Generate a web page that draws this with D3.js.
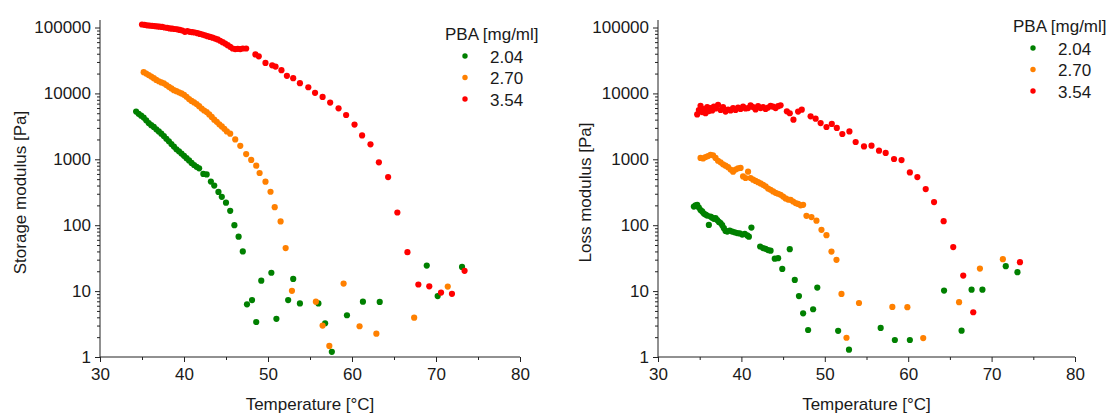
<!DOCTYPE html>
<html>
<head>
<meta charset="utf-8">
<script src="https://cdn.jsdelivr.net/npm/d3@7"></script>
<style>
  body { margin: 0; background: #fff; }
  text { font-family: "Liberation Sans", Arial, sans-serif; fill: #1a1a1a; }
</style>
</head>
<body>
<script>
// concentrations and colours
const concLabels = ["2.04", "2.70", "3.54"];
const concColors = ["#008000", "#ff8000", "#ff0000"];
const yTicks = [1, 10, 100, 1000, 10000, 100000];
const xTicks = [30, 40, 50, 60, 70, 80];
const minorX = [35, 45, 55, 65, 75];

// storage modulus [T, G']
const storage204 = [[34.3,5300],[34.6,4900],[34.9,4600],[35.2,4300],[35.5,3900],[35.8,3550],[36.1,3300],[36.4,3100],[36.7,2850],[37.0,2650],[37.3,2450],[37.6,2250],[37.9,2050],[38.2,1880],[38.5,1700],[38.8,1560],[39.1,1420],[39.4,1320],[39.7,1220],[40.0,1130],[40.3,1040],[40.6,960],[40.9,880],[41.2,820],[41.5,770],[41.8,730],[42.3,600],[42.7,590],[43.2,460],[43.6,400],[44.1,320],[44.5,270],[45.0,220],[45.5,165],[46.0,100],[46.5,67],[47.0,40],[47.5,6.3],[48.1,7.3],[48.6,3.4],[49.2,14.4],[50.4,19],[51.0,3.8],[52.4,7.3],[53.0,15.3],[53.8,6.5],[56.0,6.5],[56.8,3.25],[57.6,1.2],[59.4,4.3],[61.3,6.9],[63.3,6.85],[68.9,24.4],[70.2,8.4],[73.1,23.3]];
const storage270 = [[35.2,21000],[35.5,20000],[35.8,19000],[36.1,18000],[36.4,17000],[36.7,16000],[37.0,15300],[37.3,14700],[37.6,14200],[37.9,13400],[38.2,12600],[38.5,11900],[38.8,11200],[39.1,10800],[39.4,10400],[39.7,10000],[40.0,9500],[40.3,8900],[40.6,8200],[40.9,7700],[41.2,7300],[41.5,6900],[41.8,6400],[42.1,5900],[42.4,5500],[42.7,5200],[43.0,4800],[43.3,4400],[43.6,4000],[43.9,3700],[44.2,3400],[44.5,3150],[44.8,2900],[45.1,2650],[45.5,2450],[46.1,2000],[46.7,1600],[47.4,1200],[48.0,980],[48.6,800],[49.0,620],[49.7,457],[50.3,322],[50.8,188],[51.5,114],[52.1,45],[52.85,10.1],[55.7,6.9],[56.5,3.0],[57.3,1.47],[59.0,13],[60.9,2.93],[62.9,2.26],[67.4,3.95],[71.4,11.7]];
const storage354 = [[35.0,111000],[35.3,110000],[35.6,108000],[35.9,107000],[36.2,106000],[36.5,105000],[36.8,104000],[37.1,103000],[37.4,102000],[37.7,100000],[38.0,99000],[38.3,97000],[38.6,96000],[38.9,95000],[39.2,94000],[39.5,92000],[39.8,90000],[40.1,86000],[40.4,88000],[40.7,86000],[41.0,85000],[41.3,84000],[41.6,82000],[41.9,80000],[42.2,78000],[42.5,76000],[42.8,74000],[43.1,72000],[43.4,70000],[43.7,68000],[44.0,66000],[44.3,63000],[44.6,60000],[44.9,57000],[45.2,54000],[45.5,51000],[45.8,48000],[46.1,47000],[46.4,47500],[46.7,47000],[47.0,48000],[47.4,48000],[48.5,39000],[48.9,36500],[49.7,29000],[50.5,26700],[50.9,25500],[51.6,22500],[52.25,18500],[53.0,17000],[53.8,14300],[54.8,12400],[55.6,10200],[56.5,8850],[57.4,7250],[58.4,5940],[59.3,4700],[60.3,3360],[61.2,2300],[62.2,1690],[63.2,900],[64.3,538],[65.4,156],[66.6,39],[67.9,12.6],[69.2,11.8],[70.6,9.5],[71.9,9.1],[73.4,20.3]];

// loss modulus [T, G'']
const loss204 = [[34.3,192],[34.5,200],[34.7,204],[34.9,185],[35.1,170],[35.3,162],[35.5,150],[35.7,145],[35.9,140],[36.1,101],[36.3,135],[36.5,130],[36.7,125],[36.9,128],[37.1,120],[37.3,112],[37.5,108],[37.7,100],[37.9,90],[38.1,82],[38.3,80],[38.6,83],[38.9,80],[39.2,78],[39.5,76],[39.8,75],[40.1,72],[40.4,74],[40.7,70],[40.9,67],[41.2,92],[42.25,47.5],[42.6,45],[42.9,43.8],[43.2,42],[43.5,41],[44.0,31],[44.4,31.6],[44.9,21.7],[45.8,43.3],[46.4,14.8],[46.9,8.4],[47.4,4.6],[48.0,2.57],[48.6,5.3],[49.1,11.3],[51.6,2.5],[52.9,1.29],[56.7,2.76],[58.4,1.81],[60.2,1.81],[64.3,10.2],[66.4,2.51],[67.6,10.5],[68.9,10.5],[71.7,23.9],[73.1,19.4]];
const loss270 = [[35.1,1050],[35.4,1030],[35.7,1080],[36.0,1120],[36.3,1170],[36.6,1150],[36.9,1050],[37.2,950],[37.5,900],[37.8,840],[38.1,800],[38.4,760],[38.7,700],[39.0,650],[39.3,700],[39.6,730],[39.9,740],[40.2,550],[40.5,520],[40.8,650],[41.1,520],[41.4,490],[41.7,470],[42.0,450],[42.3,430],[42.6,410],[42.9,390],[43.2,360],[43.5,345],[43.8,325],[44.1,310],[44.4,300],[44.7,290],[45.0,272],[45.3,255],[45.6,245],[45.9,243],[46.2,229],[46.5,217],[46.8,210],[47.1,200],[47.4,204],[47.8,139],[48.4,133],[49.0,117],[49.6,85],[50.2,70.6],[50.8,39.8],[51.4,29.8],[52.0,9.06],[52.6,1.96],[54.1,6.6],[58.1,5.75],[59.9,5.7],[61.8,1.94],[66.1,6.8],[68.6,22],[71.35,30.5]];
const loss354 = [[34.7,4800],[34.9,5600],[35.1,6500],[35.3,5200],[35.5,5800],[35.7,5000],[35.9,6200],[36.1,5400],[36.3,6000],[36.5,5500],[36.7,6300],[36.9,5900],[37.2,6700],[37.5,5600],[37.8,6200],[38.1,5300],[38.4,5700],[38.7,5500],[39.0,6000],[39.3,5600],[39.6,6100],[39.9,5800],[40.2,6300],[40.5,5900],[40.8,6000],[41.1,6600],[41.4,6200],[41.7,5700],[42.0,6400],[42.3,6000],[42.6,6200],[42.9,5800],[43.2,6100],[43.5,6500],[43.8,6300],[44.1,6000],[44.4,6400],[44.7,6600],[45.45,5350],[45.8,5000],[46.24,4000],[46.8,5300],[47.24,5670],[48.3,4490],[48.9,4140],[49.5,3550],[50.2,3090],[50.84,3440],[51.44,2990],[52.1,2420],[52.95,2650],[53.7,1830],[54.7,1570],[55.6,1610],[56.5,1350],[57.3,1250],[58.3,1010],[59.2,975],[60.2,632],[61.1,538],[62.1,353],[63.1,224],[64.25,115],[65.4,46.5],[66.6,17.2],[67.8,4.78],[73.4,27.5]];

const width = 1110, height = 415;
const svg = d3.select("body").append("svg")
  .attr("width", width)
  .attr("height", height);

// minor log ticks 2..9 per decade
const minorY = [];
for (let e = 0; e <= 5; e++) {
  for (let m = 2; m <= 9; m++) {
    const v = m * Math.pow(10, e);
    if (v < 130000) minorY.push(v);
  }
}

const panels = [
  { series: [storage204, storage270, storage354], x0: 100, x1: 520, title: "Storage modulus [Pa]", titleX: 26, legX: 445, legY: 40 },
  { series: [loss204, loss270, loss354], x0: 658, x1: 1075, title: "Loss modulus [Pa]", titleX: 591, legX: 1013, legY: 32 }
];

const yTop = 20, yBottom = 357;

panels.forEach(p => {
  const x = d3.scaleLinear().domain([30, 80]).range([p.x0, p.x1]);
  const y = d3.scaleLog().domain([1, 130000]).range([yBottom, yTop]);
  const g = svg.append("g");

  // y axis, major + minor
  const yAxis = g.append("g")
    .attr("transform", `translate(${p.x0},0)`)
    .call(d3.axisLeft(y).tickValues(yTicks).tickFormat(d3.format("d")).tickSize(5).tickPadding(4));
  g.append("g")
    .attr("transform", `translate(${p.x0},0)`)
    .call(d3.axisLeft(y).tickValues(minorY).tickFormat("").tickSize(3))
    .select(".domain").remove();

  // x axis, major + minor
  const xAxis = g.append("g")
    .attr("transform", `translate(0,${yBottom})`)
    .call(d3.axisBottom(x).tickValues(xTicks).tickSize(5).tickPadding(6));
  g.append("g")
    .attr("transform", `translate(0,${yBottom})`)
    .call(d3.axisBottom(x).tickValues(minorX).tickFormat("").tickSize(3))
    .select(".domain").remove();

  // plain axis lines without end caps
  yAxis.select(".domain").attr("d", `M0,${yTop}V${yBottom}`).attr("stroke", "#222");
  xAxis.select(".domain").attr("d", `M${p.x0},0H${p.x1}`).attr("stroke", "#222");
  g.selectAll(".tick line").attr("stroke", "#222");
  g.selectAll(".tick text")
    .style("font-family", "'Liberation Sans', Arial, sans-serif")
    .style("font-size", "17px")
    .attr("fill", "#1a1a1a");

  // axis titles
  g.append("text")
    .attr("x", (p.x0 + p.x1) / 2)
    .attr("y", 410)
    .attr("text-anchor", "middle")
    .style("font-size", "17px")
    .text("Temperature [°C]");
  g.append("text")
    .attr("transform", `translate(${p.titleX},${(yTop + yBottom) / 2 + 4}) rotate(-90)`)
    .attr("text-anchor", "middle")
    .style("font-size", "17px")
    .text(p.title);

  // points
  p.series.forEach((s, i) => {
    g.append("g").selectAll("circle")
      .data(s)
      .enter()
      .append("circle")
      .attr("cx", d => x(d[0]))
      .attr("cy", d => y(d[1]))
      .attr("r", 3.1)
      .attr("fill", concColors[i]);
  });

  // legend
  const leg = g.append("g").attr("transform", `translate(${p.legX},${p.legY})`);
  leg.append("text")
    .attr("x", 0).attr("y", 0)
    .style("font-size", "17px")
    .text("PBA [mg/ml]");
  concLabels.forEach((c, i) => {
    leg.append("circle")
      .attr("cx", 20).attr("cy", 16 + i * 21.5)
      .attr("r", 2.7)
      .attr("fill", concColors[i]);
    leg.append("text")
      .attr("x", 45).attr("y", 22.5 + i * 21.5)
      .style("font-size", "17px")
      .text(c);
  });
});
</script>
</body>
</html>
